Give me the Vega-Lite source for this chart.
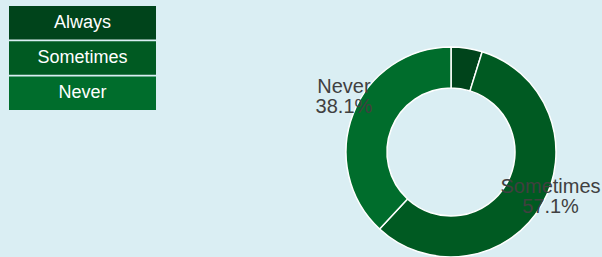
{
  "$schema": "https://vega.github.io/schema/vega-lite/v6.json",
  "width": 602,
  "height": 257,
  "autosize": {"type": "fit", "contains": "padding"},
  "padding": 0,
  "background": "#daeef3",
  "config": {"view": {"stroke": null}, "font": "Liberation Sans"},
  "data": {"values": [
    {"answer": "Always", "pct": 4.8},
    {"answer": "Sometimes", "pct": 57.1},
    {"answer": "Never", "pct": 38.1}
  ]},
  "transform": [{"calculate": "indexof(['Always', 'Sometimes', 'Never'], datum.answer)", "as": "rank"}],
  "layer": [
    {
      "mark": {"type": "rect", "x": 9, "x2": 156},
      "encoding": {
        "y": {"field": "answer", "type": "nominal", "sort": ["Always", "Sometimes", "Never"], "scale": {"range": [6, 110], "paddingInner": 0.05, "paddingOuter": 0}, "axis": null},
        "color": {"field": "answer", "type": "nominal", "sort": ["Always", "Sometimes", "Never"], "scale": {"domain": ["Always", "Sometimes", "Never"], "range": ["#00441b", "#005a22", "#006d2c"]}, "legend": null}
      }
    },
    {
      "mark": {"type": "text", "x": 82.5, "fill": "white", "fontSize": 18, "align": "center", "baseline": "middle"},
      "encoding": {
        "y": {"field": "answer", "type": "nominal", "sort": ["Always", "Sometimes", "Never"], "axis": null},
        "text": {"field": "answer", "type": "nominal"}
      }
    },
    {
      "mark": {"type": "arc", "x": 451, "y": 152, "radius": 105, "radius2": 64, "stroke": "white", "strokeWidth": 1.5},
      "encoding": {
        "theta": {"field": "pct", "type": "quantitative", "stack": true},
        "order": {"field": "rank", "type": "quantitative"},
        "color": {"field": "answer", "type": "nominal", "sort": ["Always", "Sometimes", "Never"], "legend": null}
      }
    },
    {
      "transform": [{"calculate": "datum.answer === 'Always' ? '' : datum.answer + '\\n' + format(datum.pct, '.1f') + '%'", "as": "label"}],
      "mark": {"type": "text", "x": 451, "y": 152, "radius": 115, "dy": -23, "fontSize": 20, "lineHeight": 20, "fill": "#404040", "lineBreak": "\n", "align": "center", "baseline": "middle"},
      "encoding": {
        "theta": {"field": "pct", "type": "quantitative", "stack": true},
        "order": {"field": "rank", "type": "quantitative"},
        "text": {"field": "label", "type": "nominal"}
      }
    }
  ]
}
